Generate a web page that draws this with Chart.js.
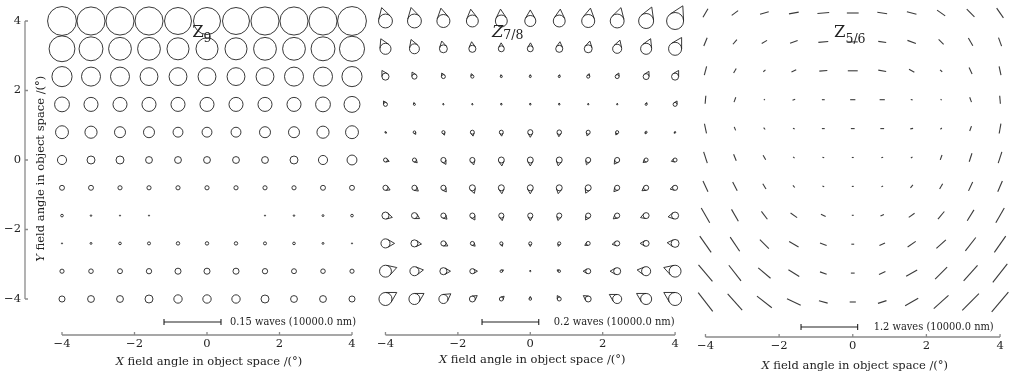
<!DOCTYPE html>
<html><head><meta charset="utf-8">
<script src="https://cdn.jsdelivr.net/npm/chart.js@4"></script>
<style>
html,body{margin:0;padding:0;background:#fff;width:1011px;height:377px;overflow:hidden;}
.p{position:absolute;top:0;height:377px;}
canvas{display:block;}
</style></head><body>
<div class="p" style="left:0;width:375px"><canvas id="c1" width="375" height="377"></canvas></div>
<div class="p" style="left:375px;width:320px"><canvas id="c2" width="320" height="377"></canvas></div>
<div class="p" style="left:695px;width:316px"><canvas id="c3" width="316" height="377"></canvas></div>
<script>
// ---------- DATA ----------
const xGrid = [-4, -3.2, -2.4, -1.6, -0.8, 0, 0.8, 1.6, 2.4, 3.2, 4];
const yGrid = [4, 3.2, 2.4, 1.6, 0.8, 0, -0.8, -1.6, -2.4, -3.2, -4];
const xTicks = [-4, -2, 0, 2, 4];
const yTicks = [-4, -2, 0, 2, 4];
const scaleBarWaves = [0.15, 0.2, 1.2];
const scaleBarTexts = ['0.15 waves (10000.0 nm)', '0.2 waves (10000.0 nm)', '1.2 waves (10000.0 nm)'];
const panelSubs = ['9', '7/8', '5/6'];

// Z9: circle diameter (waves), rows top (y=4) to bottom (y=-4)
const z9Diameter = [
  [0.076,0.074,0.074,0.074,0.071,0.071,0.071,0.074,0.074,0.074,0.076],
  [0.068,0.063,0.060,0.060,0.058,0.058,0.058,0.060,0.060,0.063,0.066],
  [0.053,0.050,0.050,0.047,0.047,0.047,0.047,0.047,0.050,0.050,0.053],
  [0.039,0.037,0.037,0.037,0.037,0.037,0.037,0.037,0.037,0.039,0.042],
  [0.034,0.032,0.029,0.029,0.026,0.026,0.026,0.029,0.029,0.032,0.034],
  [0.024,0.021,0.021,0.018,0.018,0.018,0.018,0.018,0.021,0.024,0.026],
  [0.013,0.013,0.011,0.011,0.011,0.011,0.011,0.011,0.011,0.013,0.013],
  [0.007,0.004,0.003,0.003,0.000,0.000,0.000,0.003,0.004,0.005,0.007],
  [0.003,0.005,0.007,0.008,0.009,0.009,0.009,0.008,0.007,0.005,0.003],
  [0.011,0.012,0.013,0.014,0.016,0.016,0.016,0.014,0.013,0.012,0.011],
  [0.016,0.018,0.018,0.021,0.022,0.022,0.022,0.021,0.018,0.018,0.016]
];

// Z7/8 coma: magnitude (waves) and orientation (degrees, CCW from +x)
const comaSize = [
  [0.049,0.049,0.046,0.042,0.042,0.039,0.042,0.046,0.049,0.053,0.060],
  [0.039,0.035,0.028,0.025,0.021,0.021,0.025,0.028,0.032,0.039,0.046],
  [0.025,0.018,0.014,0.011,0.007,0.007,0.007,0.011,0.014,0.021,0.025],
  [0.014,0.007,0.004,0.004,0.005,0.005,0.005,0.004,0.004,0.007,0.014],
  [0.005,0.009,0.011,0.014,0.014,0.018,0.016,0.014,0.011,0.007,0.005],
  [0.014,0.014,0.018,0.018,0.021,0.021,0.021,0.018,0.018,0.014,0.014],
  [0.018,0.018,0.018,0.021,0.021,0.021,0.021,0.021,0.018,0.018,0.018],
  [0.025,0.021,0.018,0.018,0.018,0.018,0.018,0.018,0.018,0.021,0.025],
  [0.032,0.025,0.018,0.014,0.011,0.011,0.011,0.014,0.018,0.021,0.028],
  [0.042,0.032,0.025,0.018,0.009,0.004,0.009,0.018,0.025,0.032,0.042],
  [0.046,0.039,0.032,0.021,0.014,0.009,0.014,0.021,0.032,0.039,0.046]
];
const comaAngle = [
  [106,104,101,98,94,90,85,80,74,68,63],
  [115,110,102,96,92,88,84,78,72,66,60],
  [120,118,115,112,100,90,80,70,65,62,60],
  [120,110,100,95,90,90,90,85,80,70,60],
  [-40,-60,-70,-80,-85,-90,-95,-105,-115,-120,-130],
  [-20,-45,-60,-75,-85,-90,-100,-110,-125,-140,-160],
  [-25,-40,-55,-70,-85,-90,-100,-115,-130,-145,-165],
  [-15,-30,-45,-60,-80,-90,-105,-120,-140,-160,-170],
  [0,-5,-30,-45,-70,-90,-110,-150,-170,180,175],
  [18,8,0,0,30,90,150,180,180,172,162],
  [30,30,35,35,45,90,120,145,150,150,150]
];

// Z5/6 astigmatism: magnitude (waves) and orientation (degrees, CCW from +x)
const astigSize = [
  [0.21,0.17,0.19,0.21,0.25,0.25,0.21,0.21,0.21,0.23,0.25],
  [0.19,0.13,0.13,0.17,0.21,0.21,0.17,0.19,0.15,0.19,0.19],
  [0.19,0.11,0.06,0.11,0.17,0.21,0.17,0.13,0.06,0.15,0.19],
  [0.17,0.11,0.03,0.06,0.06,0.11,0.11,0.04,0.03,0.11,0.17],
  [0.21,0.08,0.05,0.04,0.06,0.08,0.08,0.06,0.04,0.11,0.21],
  [0.25,0.15,0.11,0.04,0.04,0.04,0.04,0.04,0.11,0.19,0.25],
  [0.25,0.21,0.13,0.06,0.04,0.04,0.04,0.08,0.13,0.21,0.25],
  [0.36,0.29,0.21,0.17,0.11,0.04,0.08,0.15,0.21,0.27,0.36],
  [0.42,0.36,0.27,0.23,0.15,0.06,0.13,0.21,0.27,0.36,0.42],
  [0.46,0.42,0.34,0.27,0.15,0.08,0.15,0.27,0.36,0.44,0.50],
  [0.50,0.46,0.40,0.32,0.19,0.13,0.19,0.32,0.42,0.50,0.55]
];
const astigAngle = [
  [60,37,15,10,5,0,-8,-15,-35,-45,-55],
  [68,50,30,20,5,0,-8,-20,-45,-60,-70],
  [75,60,40,25,5,0,-10,-30,-40,-65,-78],
  [85,70,45,20,0,0,0,-10,-40,-70,-85],
  [-78,-68,-50,-25,0,0,0,10,40,70,80],
  [-72,-68,-60,-40,-20,0,20,30,70,72,72],
  [-65,-63,-58,-50,-20,0,30,50,60,65,67],
  [-60,-60,-53,-35,-25,0,25,35,50,58,60],
  [-55,-56,-45,-30,-20,0,25,35,42,52,55],
  [-50,-52,-40,-32,-20,0,25,30,45,48,52],
  [-52,-48,-38,-25,-15,0,18,30,42,45,50]
];

// ---------- LAYOUT ----------
const SERIF = "'DejaVu Serif', 'Liberation Serif', serif";
const FS = 11.5;
Chart.defaults.font.family = SERIF;
Chart.defaults.color = '#222';

const panels = [
  { id:'c1', kind:'z9', vals:z9Diameter, angs:null, italicZ:false,
    xMin:-5.0207, xMax:4.4966, yMin:-5.036, yMax:4, pad:{left:0,top:21,right:5,bottom:0},
    yAxis:true, xAxisH:42,
    bar:{x0:-1.186, len:1.572, y:-4.662, tx:0.634, tw:126}, lab:{x:-0.41, y:3.54, subDy:5}, titleDy:27 },
  { id:'c2', kind:'coma', vals:comaSize, angs:comaAngle, italicZ:true,
    xMin:-4.2474, xMax:4.4948, yMin:-5.036, yMax:4, pad:{left:0,top:21,right:2,bottom:0},
    yAxis:false, xAxisH:42,
    bar:{x0:-1.333, len:1.567, y:-4.662, tx:0.646, tw:121}, lab:{x:-1.06, y:3.54, subDy:2}, titleDy:25 },
  { id:'c3', kind:'astig', vals:astigSize, angs:astigAngle, italicZ:false,
    xMin:-4.229, xMax:4.216, yMin:-4.969, yMax:4, pad:{left:0,top:13,right:3,bottom:0},
    yAxis:false, xAxisH:40,
    bar:{x0:-1.405, len:1.538, y:-4.692, tx:0.568, tw:120}, lab:{x:-0.51, y:3.34, subDy:6}, titleDy:29 }
];

function toPoints(vals, angs) {
  const pts = [];
  yGrid.forEach((yv, i) => xGrid.forEach((xv, j) =>
    pts.push({ x: xv, y: yv, v: vals[i][j], a: angs ? angs[i][j] : 0 })));
  return pts;
}
function pxPerWave(chart, p, k) {
  const x = chart.scales.x;
  return Math.abs(x.getPixelForValue(p.bar.x0 + p.bar.len) - x.getPixelForValue(p.bar.x0)) / scaleBarWaves[k];
}
const minus = v => String(v).replace('-', '\u2212');

function drawTitle(ctx, first, rest, cx, cy) {
  const fi = 'italic ' + FS + 'px ' + SERIF, fn = FS + 'px ' + SERIF;
  ctx.font = fi; const w1 = ctx.measureText(first).width;
  ctx.font = fn; const w2 = ctx.measureText(rest).width;
  const sx = cx - (w1 + w2) / 2;
  ctx.font = fi; ctx.fillText(first, sx, cy);
  ctx.font = fn; ctx.fillText(rest, sx + w1, cy);
}

panels.forEach((p, k) => {
  const ds = {
    data: toPoints(p.vals, p.angs),
    pointStyle: p.kind === 'astig' ? 'line' : 'circle',
    pointRadius: ctx => ctx.raw ? ctx.raw.v * pxPerWave(ctx.chart, p, k) / 2 : 0,
    pointRotation: ctx => ctx.raw ? -ctx.raw.a : 0,
    borderColor: p.kind === 'astig' ? '#3a3a3a' : '#222',
    borderWidth: p.kind === 'astig' ? 1.1 : 0.9,
    backgroundColor: 'rgba(0,0,0,0)',
    clip: false
  };
  const drawer = {
    id: 'ffd' + k,
    afterDatasetsDraw(chart) {
      const ctx = chart.ctx, xs = chart.scales.x, ys = chart.scales.y, ca = chart.chartArea;
      const ppw = pxPerWave(chart, p, k);
      ctx.save();
      // coma cones
      if (p.kind === 'coma') {
        const meta = chart.getDatasetMeta(0);
        ctx.strokeStyle = '#222'; ctx.lineWidth = 0.9;
        meta.data.forEach((el, n) => {
          const d = ds.data[n]; const r = d.v * ppw / 2;
          if (r < 0.3) return;
          const t = d.a * Math.PI / 180;
          const ax = el.x + 2 * r * Math.cos(t), ay = el.y - 2 * r * Math.sin(t);
          const t1 = t + Math.PI / 3, t2 = t - Math.PI / 3;
          ctx.beginPath();
          ctx.moveTo(el.x + r * Math.cos(t1), el.y - r * Math.sin(t1));
          ctx.lineTo(ax, ay);
          ctx.lineTo(el.x + r * Math.cos(t2), el.y - r * Math.sin(t2));
          ctx.stroke();
        });
      }
      // x axis line + ticks
      ctx.strokeStyle = '#8a8a8a'; ctx.lineWidth = 1.3;
      ctx.beginPath();
      ctx.moveTo(xs.getPixelForValue(xTicks[0]), ca.bottom);
      ctx.lineTo(xs.getPixelForValue(xTicks[xTicks.length - 1]), ca.bottom);
      xTicks.forEach(v => { const px = xs.getPixelForValue(v); ctx.moveTo(px, ca.bottom); ctx.lineTo(px, ca.bottom - 3); });
      ctx.stroke();
      ctx.fillStyle = '#222'; ctx.textBaseline = 'middle'; ctx.textAlign = 'left';
      // y axis line + ticks + title
      if (p.yAxis) {
        ctx.beginPath();
        ctx.moveTo(ca.left, ys.getPixelForValue(yTicks[yTicks.length - 1]));
        ctx.lineTo(ca.left, ys.getPixelForValue(yTicks[0]));
        yTicks.forEach(v => { const py = ys.getPixelForValue(v); ctx.moveTo(ca.left, py); ctx.lineTo(ca.left + 3, py); });
        ctx.stroke();
        ctx.save();
        ctx.translate(ca.left + 16, ys.getPixelForValue(-0.25));
        ctx.rotate(-Math.PI / 2);
        drawTitle(ctx, 'Y', ' field angle in object space /(\u00B0)', 0, 0);
        ctx.restore();
      }
      // x title
      drawTitle(ctx, 'X', ' field angle in object space /(\u00B0)', xs.getPixelForValue(0) + 2, ca.bottom + p.titleDy);
      // scale bar
      {
        const x0 = xs.getPixelForValue(p.bar.x0), x1 = xs.getPixelForValue(p.bar.x0 + p.bar.len), by = ys.getPixelForValue(p.bar.y);
        ctx.strokeStyle = '#222'; ctx.lineWidth = 1.1;
        ctx.beginPath();
        ctx.moveTo(x0, by); ctx.lineTo(x1, by);
        ctx.moveTo(x0, by - 3); ctx.lineTo(x0, by + 3);
        ctx.moveTo(x1, by - 3); ctx.lineTo(x1, by + 3);
        ctx.stroke();
        ctx.font = FS + 'px ' + SERIF;
        ctx.fillText(scaleBarTexts[k], xs.getPixelForValue(p.bar.tx), by, p.bar.tw);
      }
      // panel label
      {
        const lx = xs.getPixelForValue(p.lab.x), ly = ys.getPixelForValue(p.lab.y);
        ctx.textBaseline = 'alphabetic';
        ctx.font = (p.italicZ ? 'italic ' : '') + '16.5px ' + SERIF;
        ctx.fillText('Z', lx, ly);
        const wz = ctx.measureText('Z').width;
        ctx.font = '12.5px ' + SERIF;
        ctx.fillText(panelSubs[k], lx + wz, ly + p.lab.subDy);
      }
      ctx.restore();
    }
  };
  new Chart(document.getElementById(p.id), {
    type: 'scatter',
    data: { datasets: [ds] },
    plugins: [drawer],
    options: {
      responsive: false, animation: false, events: [],
      layout: { padding: p.pad },
      plugins: { legend: { display: false }, tooltip: { enabled: false } },
      elements: { point: { hoverRadius: 0 } },
      scales: {
        x: {
          type: 'linear', min: p.xMin, max: p.xMax,
          grid: { display: false, drawTicks: false }, border: { display: false },
          afterBuildTicks: s => { s.ticks = xTicks.map(v => ({ value: v })); },
          afterFit: s => { s.height = p.xAxisH; },
          ticks: { padding: 2, font: { size: FS, family: SERIF }, color: '#222', maxRotation: 0, autoSkip: false, callback: minus }
        },
        y: {
          type: 'linear', min: p.yMin, max: p.yMax, display: p.yAxis,
          grid: { display: false, drawTicks: false }, border: { display: false },
          afterBuildTicks: s => { s.ticks = yTicks.map(v => ({ value: v })); },
          afterFit: s => { if (p.yAxis) s.width = 25; },
          ticks: { padding: 4, font: { size: FS, family: SERIF }, color: '#222', autoSkip: false, callback: minus }
        }
      }
    }
  });
});
</script>
</body></html>
